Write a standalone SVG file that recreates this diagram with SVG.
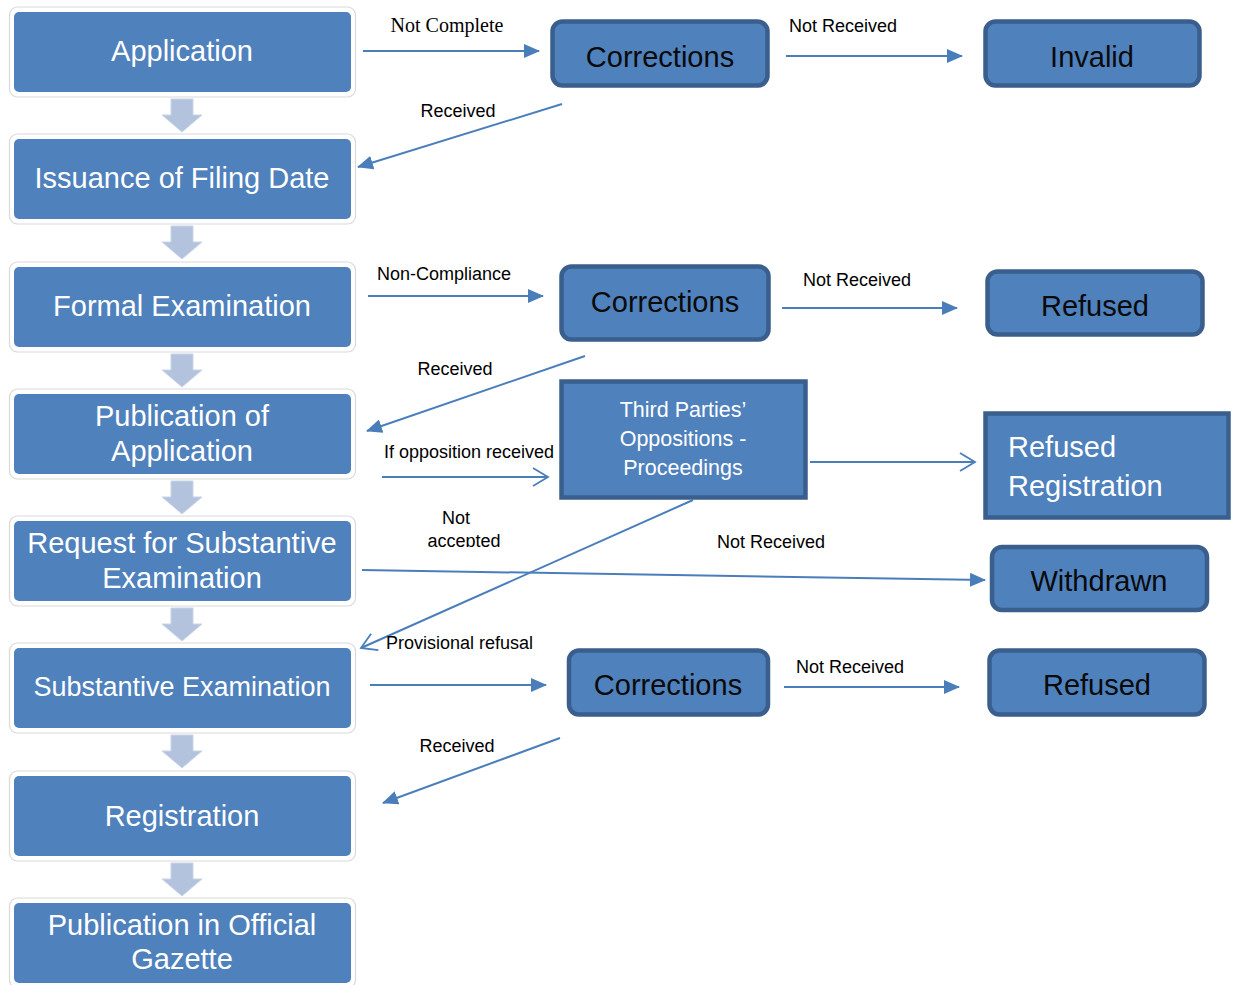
<svg xmlns="http://www.w3.org/2000/svg" width="1237" height="985" viewBox="0 0 1237 985">
<style>
.outer{fill:#fff;stroke:#d9d9d9;stroke-width:1.2}
.inner{fill:#4f81bd}
.lt{font-family:"Liberation Sans",Arial,sans-serif;font-size:29px;fill:#fff;text-anchor:middle;dominant-baseline:central}
.rb{fill:#4f81bd;stroke:#3a5f8d;stroke-width:4.5}
.rt{font-family:"Liberation Sans",Arial,sans-serif;font-size:29px;fill:#0a0a0a;text-anchor:middle;dominant-baseline:central}
.wt{font-family:"Liberation Sans",Arial,sans-serif;fill:#fff;dominant-baseline:central}
.lbl{font-family:"Liberation Sans",Arial,sans-serif;font-size:18px;fill:#000;text-anchor:middle;dominant-baseline:central}
.lbls{font-family:"Liberation Sans",Arial,sans-serif;font-size:18px;fill:#000;text-anchor:start;dominant-baseline:central}
.conn line{stroke:#4a7ebb;stroke-width:2;fill:none}
.down{fill:#b3c3dd;stroke:#c9d5e8;stroke-width:1}
</style>
<defs>
<marker id="tri" markerUnits="userSpaceOnUse" markerWidth="16" markerHeight="14" viewBox="0 0 16 14" refX="15" refY="7" orient="auto">
<path d="M0,0 L16,7 L0,14 Z" fill="#4a7ebb"/>
</marker>
<marker id="chev" markerUnits="userSpaceOnUse" markerWidth="18" markerHeight="20" viewBox="0 0 18 20" refX="16" refY="10" orient="auto">
<path d="M1,1 L16,10 L1,19" fill="none" stroke="#4a7ebb" stroke-width="1.8"/>
</marker>
<path id="dn" d="M-11,0 H11 V16 H20 L0,33 L-20,16 H-11 Z"/>
<clipPath id="clipNA"><rect x="400" y="500" width="120" height="47"/></clipPath>
</defs>

<g id="down-arrows" class="down">
<use href="#dn" x="182" y="99"/>
<use href="#dn" x="182" y="226"/>
<use href="#dn" x="182" y="354"/>
<use href="#dn" x="182" y="481"/>
<use href="#dn" x="182" y="608"/>
<use href="#dn" x="182" y="735"/>
<use href="#dn" x="182" y="863"/>
</g>

<g id="n-application"><rect class="outer" x="9.5" y="7" width="346" height="90" rx="8"/><rect class="inner" x="14" y="12" width="337" height="80" rx="5"/><text class="lt" x="182" y="51">Application</text></g>
<g id="n-filing"><rect class="outer" x="9.5" y="134" width="346" height="90" rx="8"/><rect class="inner" x="14" y="139" width="337" height="80" rx="5"/><text class="lt" x="182" y="178">Issuance of Filing Date</text></g>
<g id="n-formal"><rect class="outer" x="9.5" y="262" width="346" height="90" rx="8"/><rect class="inner" x="14" y="267" width="337" height="80" rx="5"/><text class="lt" x="182" y="306">Formal Examination</text></g>
<g id="n-publication"><rect class="outer" x="9.5" y="389" width="346" height="90" rx="8"/><rect class="inner" x="14" y="394" width="337" height="80" rx="5"/><text class="lt" x="182" y="416">Publication of</text><text class="lt" x="182" y="451">Application</text></g>
<g id="n-request"><rect class="outer" x="9.5" y="516" width="346" height="90" rx="8"/><rect class="inner" x="14" y="521" width="337" height="80" rx="5"/><text class="lt" x="182" y="543">Request for Substantive</text><text class="lt" x="182" y="578">Examination</text></g>
<g id="n-substantive"><rect class="outer" x="9.5" y="643" width="346" height="90" rx="8"/><rect class="inner" x="14" y="648" width="337" height="80" rx="5"/><text class="lt" x="182" y="687" style="font-size:27px">Substantive Examination</text></g>
<g id="n-registration"><rect class="outer" x="9.5" y="771" width="346" height="90" rx="8"/><rect class="inner" x="14" y="776" width="337" height="80" rx="5"/><text class="lt" x="182" y="816">Registration</text></g>
<g id="n-gazette"><rect class="outer" x="9.5" y="898" width="346" height="90" rx="8"/><rect class="inner" x="14" y="903" width="337" height="80" rx="5"/><text class="lt" x="182" y="925">Publication in Official</text><text class="lt" x="182" y="959">Gazette</text></g>

<g id="n-corrections1"><rect class="rb" x="552.5" y="21.5" width="215" height="64" rx="10"/><text class="rt" x="660" y="57">Corrections</text></g>
<g id="n-invalid"><rect class="rb" x="985.5" y="21.5" width="214" height="64" rx="10"/><text class="rt" x="1092" y="57">Invalid</text></g>
<g id="n-corrections2"><rect class="rb" x="561.5" y="266.5" width="207" height="73" rx="10"/><text class="rt" x="665" y="302">Corrections</text></g>
<g id="n-refused1"><rect class="rb" x="987.5" y="271.5" width="215" height="63" rx="10"/><text class="rt" x="1095" y="306">Refused</text></g>
<g id="n-third"><rect class="rb" x="561.5" y="381.5" width="244" height="116"/><text class="wt" x="683" y="410" font-size="21.5" text-anchor="middle">Third Parties’</text><text class="wt" x="683" y="439" font-size="21.5" text-anchor="middle">Oppositions -</text><text class="wt" x="683" y="468" font-size="21.5" text-anchor="middle">Proceedings</text></g>
<g id="n-refreg"><rect class="rb" x="985.5" y="413.5" width="243" height="104"/><text class="wt" x="1008" y="447" font-size="29">Refused</text><text class="wt" x="1008" y="486" font-size="29">Registration</text></g>
<g id="n-withdrawn"><rect class="rb" x="992" y="547" width="215" height="63" rx="10"/><text class="rt" x="1099" y="581">Withdrawn</text></g>
<g id="n-corrections3"><rect class="rb" x="569" y="650.5" width="199" height="64" rx="10"/><text class="rt" x="668" y="685">Corrections</text></g>
<g id="n-refused2"><rect class="rb" x="989.5" y="650.5" width="215" height="64" rx="10"/><text class="rt" x="1097" y="685">Refused</text></g>

<g id="connectors" class="conn">
<line x1="363" y1="51" x2="539" y2="51" marker-end="url(#tri)"/>
<line x1="786" y1="56" x2="962" y2="56" marker-end="url(#tri)"/>
<line x1="562" y1="104" x2="358" y2="167" marker-end="url(#tri)"/>
<line x1="368" y1="296" x2="543" y2="296" marker-end="url(#tri)"/>
<line x1="782" y1="308" x2="957" y2="308" marker-end="url(#tri)"/>
<line x1="585" y1="356" x2="367" y2="431" marker-end="url(#tri)"/>
<line x1="382" y1="477" x2="548" y2="477" marker-end="url(#chev)"/>
<line x1="810" y1="462" x2="975" y2="462" marker-end="url(#chev)"/>
<line x1="693" y1="500" x2="361" y2="648" marker-end="url(#chev)"/>
<line x1="362" y1="570" x2="985" y2="580" marker-end="url(#tri)"/>
<line x1="370" y1="685" x2="546" y2="685" marker-end="url(#tri)"/>
<line x1="784" y1="687" x2="959" y2="687" marker-end="url(#tri)"/>
<line x1="560" y1="738" x2="383" y2="803" marker-end="url(#tri)"/>
</g>

<g id="labels">
<text x="447" y="25" font-family="'Liberation Serif','Times New Roman',serif" font-size="20" text-anchor="middle" dominant-baseline="central">Not Complete</text>
<text class="lbl" x="843" y="26">Not Received</text>
<text class="lbl" x="458" y="111">Received</text>
<text class="lbl" x="444" y="274">Non-Compliance</text>
<text class="lbl" x="857" y="280">Not Received</text>
<text class="lbl" x="455" y="369">Received</text>
<text class="lbl" x="469" y="452">If opposition received</text>
<g clip-path="url(#clipNA)"><text class="lbl" x="456" y="518">Not</text><text class="lbl" x="464" y="541">accepted</text></g>
<text class="lbl" x="771" y="542">Not Received</text>
<text class="lbls" x="386" y="643">Provisional refusal</text>
<text class="lbl" x="850" y="667">Not Received</text>
<text class="lbl" x="457" y="746">Received</text>
</g>
</svg>
